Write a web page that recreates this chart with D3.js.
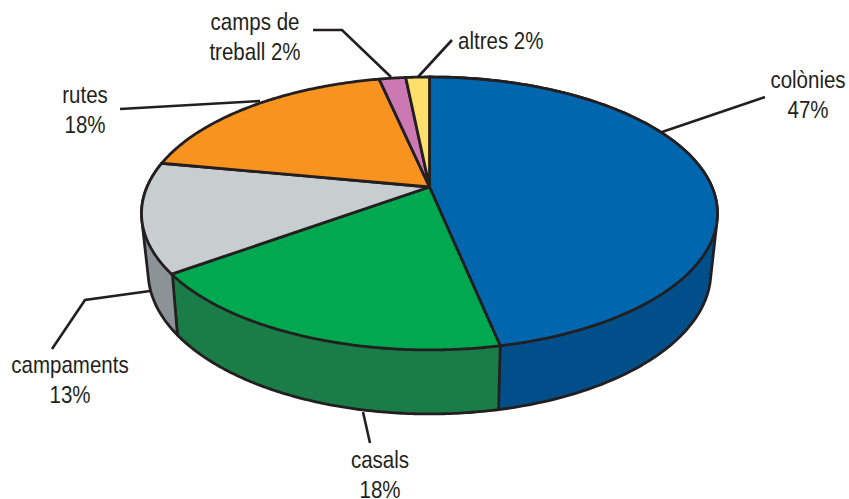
<!DOCTYPE html>
<html><head><meta charset="utf-8">
<style>html,body{margin:0;padding:0;background:#fff}svg{display:block}</style>
<script src="https://cdn.jsdelivr.net/npm/d3@7"></script></head>
<body><svg id="c" width="849" height="499"></svg>
<script>
const categories = ["colònies","casals","campaments","rutes","camps de treball","altres"];
const sliceShares = [46.75,18.25,13,18.6,1.8,1.6];
const topColors = ["#0066ad","#00a84f","#c8cdd0","#f7931e","#cc79b3","#ffdf6b"];
const wallColors = ["#004f8a","#1a7d48","#8c9397",null,null,null];
const labelLines = [["colònies","47%"],["casals","18%"],["campaments","13%"],["rutes","18%"],["camps de","treball 2%"],["altres 2%"]];
const labelPos = [[808,88,"middle"],[380,468,"middle"],[70,373,"middle"],[85,103,"middle"],[255,30,"middle"],[458,49,"start"]];
const leaders = [
 [[662,132],[765,97]],
 [[370,443],[363,412]],
 [[150,291],[85,300],[52,349]],
 [[120,109],[260,101]],
 [[313,30],[342,30],[391,77]],
 [[452,40],[418,77]]
];
const svg = d3.select("#c");
const ink = "#231f20";
// perspective projection of the unit disc
const cx=429.5, cy=187, p=282.5, a=-95.06, k=0.194;
const project = t => { const u=Math.sin(t), v=Math.cos(t), d=1+k*v; return [cx+p*u/d,(a*v+cy)/d]; };
const drop = ([x,y]) => [cx+(x-cx)*0.977, 1.04*y+50];
const arcs = d3.pie().sort(null).value(d=>d)(sliceShares);
const sample = (s,e) => d3.range(0,121).map(i=>project(s+(e-s)*i/120));
const line = d3.line().curve(d3.curveLinear);

const wallG = svg.append("g"), topG = svg.append("g"), leadG = svg.append("g"), textG = svg.append("g");

arcs.forEach((d,i)=>{
  if(!wallColors[i]) return;
  const top = sample(d.startAngle,d.endAngle);
  const hull = d3.polygonHull(top.concat(top.map(drop)));
  wallG.append("path").attr("d",line(hull)+"Z").attr("fill",wallColors[i])
    .attr("stroke",ink).attr("stroke-width",2.8).attr("stroke-linejoin","round");
});
arcs.forEach((d,i)=>{
  const pts = [[cx,cy]].concat(sample(d.startAngle,d.endAngle));
  topG.append("path").attr("d",line(pts)+"Z").attr("fill",topColors[i])
    .attr("stroke",ink).attr("stroke-width",2.8).attr("stroke-linejoin","round");
});
leaders.forEach(l=>{
  leadG.append("path").attr("d",line(l)).attr("fill","none").attr("stroke",ink).attr("stroke-width",2.6);
});
labelLines.forEach((ls,i)=>{
  const [x,y,anc]=labelPos[i];
  ls.forEach((s,j)=>{
    textG.append("text").attr("transform",`translate(${x},${y+j*29.5}) scale(0.855,1)`)
      .attr("text-anchor",anc).attr("font-family","'Liberation Sans',Arial,sans-serif")
      .attr("font-size",24).attr("fill",ink).text(s);
  });
});
</script></body></html>
